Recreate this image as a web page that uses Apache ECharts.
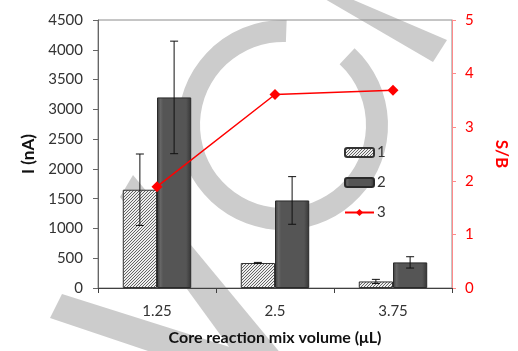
<!DOCTYPE html>
<html>
<head>
<meta charset="utf-8">
<script src="https://cdn.jsdelivr.net/npm/echarts@6/dist/echarts.min.js"></script>
<style>
html,body{margin:0;padding:0;background:#fff;}
#chart{width:518px;height:351px;}
</style>
</head>
<body>
<div id="chart"></div>
<script>
// ---- data ----
const categories = ['1.25', '2.5', '3.75'];
const series1Values = [1650, 420, 110];
const series1Errors = [600, 10, 35];
const series2Values = [3200, 1470, 430];
const series2Errors = [945, 400, 95];
const sbValues = [1.89, 3.61, 3.69];
const seriesNames = ['1', '2', '3'];
const leftAxisName = 'I (nA)';
const rightAxisName = 'S/B';
const xAxisName = 'Core reaction mix volume (μL)';

// ---- styles ----
function hatchCanvas() {
  const n = 3;
  const c = document.createElement('canvas');
  c.width = n; c.height = n;
  const g = c.getContext('2d');
  g.fillStyle = '#eeeeee';
  g.fillRect(0, 0, n, n);
  g.strokeStyle = '#555555';
  g.lineWidth = 0.9;
  g.beginPath();
  g.moveTo(0, n); g.lineTo(n, 0);
  g.moveTo(-1, 1); g.lineTo(1, -1);
  g.moveTo(n - 1, n + 1); g.lineTo(n + 1, n - 1);
  g.stroke();
  return c;
}
const hatch = { image: hatchCanvas(), repeat: 'repeat' };
const darkFill = {
  type: 'linear', x: 0, y: 0, x2: 1, y2: 0,
  colorStops: [
    { offset: 0, color: '#3a3a3a' },
    { offset: 0.1, color: '#666666' },
    { offset: 0.18, color: '#555555' },
    { offset: 0.85, color: '#555555' },
    { offset: 0.93, color: '#444444' },
    { offset: 1, color: '#333333' }
  ]
};
const FONT = 'Lato';
const BAR_FRAC = 0.29;

function errData(vals, errs) {
  return vals.map((v, i) => [i, v - errs[i], v + errs[i]]);
}
function errRender(side) {
  return function (params, api) {
    const idx = api.value(0);
    const band = api.size([1, 0])[0];
    const off = side * band * BAR_FRAC / 2;
    const lo = api.coord([idx, api.value(1)]);
    const hi = api.coord([idx, api.value(2)]);
    const x = lo[0] + off;
    const cap = 4;
    const st = { stroke: '#111', lineWidth: 1 };
    return {
      type: 'group',
      children: [
        { type: 'line', shape: { x1: x, y1: lo[1], x2: x, y2: hi[1] }, style: st },
        { type: 'line', shape: { x1: x - cap, y1: lo[1], x2: x + cap, y2: lo[1] }, style: st },
        { type: 'line', shape: { x1: x - cap, y1: hi[1], x2: x + cap, y2: hi[1] }, style: st }
      ]
    };
  };
}
const plainNum = v => String(v);

const wm = { fill: '#cccccc' };
const chart = echarts.init(document.getElementById('chart'), null, { renderer: 'canvas' });
chart.setOption({
  animation: false,
  backgroundColor: '#ffffff',
  textStyle: { fontFamily: FONT },
  graphic: [
    { type: 'sector', z: -1, silent: true,
      shape: { cx: 283, cy: 125, r: 105, r0: 83, startAngle: -47 * Math.PI / 180, endAngle: 272 * Math.PI / 180, clockwise: true },
      style: wm },
    { type: 'polygon', z: -1, silent: true,
      shape: { points: [[318, -5], [342, -5], [447, 40], [433, 62]] }, style: wm },
    { type: 'polygon', z: -1, silent: true,
      shape: { points: [[133, 175], [120, 197], [235, 355], [282, 355]] }, style: wm },
    { type: 'polygon', z: -1, silent: true,
      shape: { points: [[62, 294], [50, 318], [160, 355], [255, 355]] }, style: wm }
  ],
  grid: {
    left: 98, right: 56, top: 20, bottom: 59,
    show: true, borderColor: '#8c8c8c', borderWidth: 1, backgroundColor: 'transparent'
  },
  legend: {
    data: seriesNames,
    orient: 'vertical',
    left: 339, top: 140,
    itemWidth: 29, itemHeight: 9, itemGap: 15,
    textStyle: { fontFamily: FONT, fontSize: 15, color: '#333', padding: [0, 0, 0, -2] },
    selectedMode: false
  },
  xAxis: {
    type: 'category',
    data: categories,
    name: xAxisName,
    nameLocation: 'middle',
    nameGap: 42,
    nameTextStyle: { fontFamily: FONT, fontSize: 16, fontWeight: 'bold', color: '#111' },
    axisLine: { lineStyle: { color: '#404040', width: 1 } },
    axisTick: { show: true, length: 5, alignWithLabel: false, lineStyle: { color: '#404040' } },
    axisLabel: { fontFamily: FONT, fontSize: 15, color: '#333', margin: 16 },
    splitLine: { show: false }
  },
  yAxis: [
    {
      type: 'value', min: 0, max: 4500, interval: 500,
      name: leftAxisName, nameLocation: 'middle', nameRotate: 90, nameGap: 58,
      nameTextStyle: { fontFamily: FONT, fontSize: 17, fontWeight: 'bold', color: '#111' },
      axisLine: { show: true, lineStyle: { color: '#666', width: 1 } },
      axisTick: { show: true, length: 5, lineStyle: { color: '#666' } },
      axisLabel: { fontFamily: FONT, fontSize: 15, color: '#333', margin: 15, formatter: plainNum },
      splitLine: { show: false }
    },
    {
      type: 'value', min: 0, max: 5, interval: 1, position: 'right',
      name: rightAxisName, nameLocation: 'middle', nameRotate: -90, nameGap: 41,
      nameTextStyle: { fontFamily: FONT, fontSize: 17, fontWeight: 'bold', color: '#ff0000' },
      axisLine: { show: true, lineStyle: { color: '#ff8a8a', width: 1 } },
      axisTick: { show: true, length: 4, lineStyle: { color: '#ff8a8a' } },
      axisLabel: { fontFamily: FONT, fontSize: 15, color: '#ff0000', margin: 13, formatter: plainNum },
      splitLine: { show: false }
    }
  ],
  series: [
    {
      name: seriesNames[0], type: 'bar', yAxisIndex: 0,
      data: series1Values,
      barWidth: (BAR_FRAC * 100) + '%', barGap: '0%',
      itemStyle: { color: hatch, borderColor: '#333', borderWidth: 1 },
      emphasis: { disabled: true }
    },
    {
      name: seriesNames[1], type: 'bar', yAxisIndex: 0,
      data: series2Values,
      barWidth: (BAR_FRAC * 100) + '%', barGap: '0%',
      itemStyle: { color: darkFill, borderColor: '#2a2a2a', borderWidth: 1 },
      emphasis: { disabled: true }
    },
    {
      name: 'err1', type: 'custom', yAxisIndex: 0, z: 5,
      data: errData(series1Values, series1Errors),
      renderItem: errRender(-1), silent: true
    },
    {
      name: 'err2', type: 'custom', yAxisIndex: 0, z: 5,
      data: errData(series2Values, series2Errors),
      renderItem: errRender(1), silent: true
    },
    {
      name: seriesNames[2], type: 'line', yAxisIndex: 1, z: 6,
      data: sbValues,
      symbol: 'diamond', symbolSize: 11,
      lineStyle: { color: '#ff0000', width: 1.5 },
      itemStyle: { color: '#ff0000' },
      emphasis: { disabled: true }
    }
  ]
});
</script>
</body>
</html>
